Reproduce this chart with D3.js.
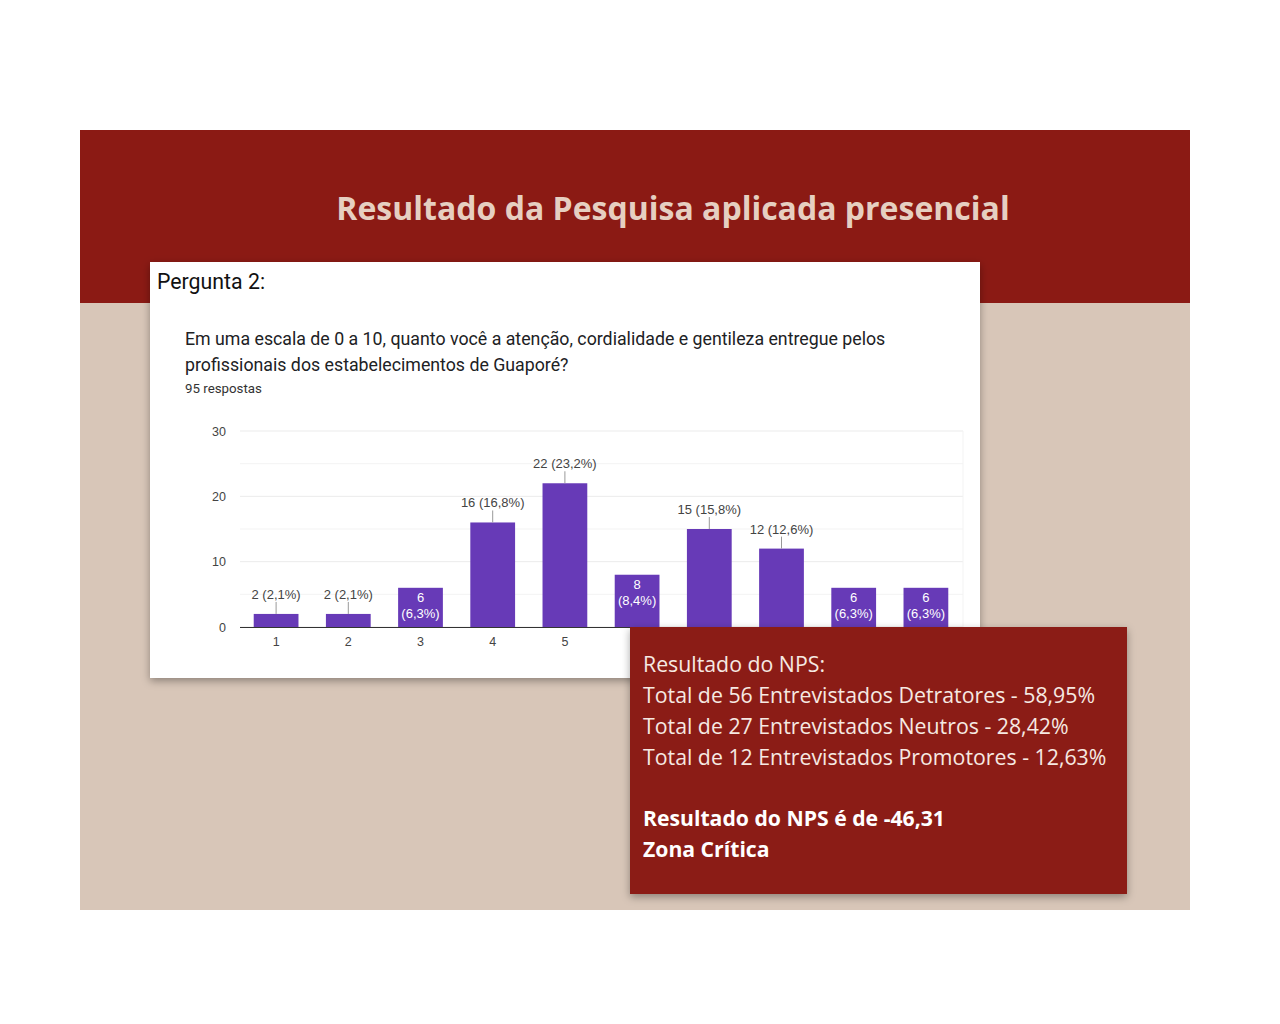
<!DOCTYPE html>
<html>
<head>
<meta charset="utf-8">
<script src="https://cdn.jsdelivr.net/npm/d3@7"></script>
<style>
  body { margin: 0; background: #ffffff; }
  svg { display: block; }
</style>
</head>
<body>
<div id="chart"></div>
<script>
// chart data
var categories = ["1", "2", "3", "4", "5", "6", "7", "8", "9", "10"];
var counts = [2, 2, 6, 16, 22, 8, 15, 12, 6, 6];
var yTicks = [0, 10, 20, 30];
var gridTicks = [0, 5, 10, 15, 20, 25, 30];
var totalAnswers = 95;

var slideTitle = "Resultado da Pesquisa aplicada presencial";
var cardTitle = "Pergunta 2:";
var questionLines = [
  "Em uma escala de 0 a 10, quanto você a atenção, cordialidade e gentileza entregue pelos",
  "profissionais dos estabelecimentos de Guaporé?"
];
var npsLines = [
  "Resultado do NPS:",
  "Total de 56 Entrevistados Detratores - 58,95%",
  "Total de 27 Entrevistados Neutros - 28,42%",
  "Total de 12 Entrevistados Promotores - 12,63%"
];
var npsBold = ["Resultado do NPS é de -46,31", "Zona Crítica"];

function init() {
  var w = 1280, h = 1024;
  var dataset = categories.map(function (c, i) { return { cat: c, value: counts[i] }; });

  var svg = d3.select("#chart").append("svg")
    .attr("width", w).attr("height", h);

  var defs = svg.append("defs");
  var f = defs.append("filter").attr("id", "shadow")
    .attr("x", "-10%").attr("y", "-10%").attr("width", "120%").attr("height", "130%");
  f.append("feDropShadow").attr("dx", 0).attr("dy", 3).attr("stdDeviation", 4)
    .attr("flood-color", "#000").attr("flood-opacity", 0.35);

  // slide background
  svg.append("rect").attr("x", 80).attr("y", 130).attr("width", 1110).attr("height", 780)
    .attr("fill", "#d8c6b8");
  svg.append("rect").attr("x", 80).attr("y", 130).attr("width", 1110).attr("height", 173)
    .attr("fill", "#8b1a14");

  svg.append("text")
    .attr("x", 673).attr("y", 220)
    .attr("text-anchor", "middle")
    .style("font-family", "'Open Sans', sans-serif")
    .style("font-weight", 700)
    .style("font-size", "32px")
    .attr("fill", "#e6cfc1")
    .text(slideTitle);

  // white card
  svg.append("rect").attr("x", 150).attr("y", 262).attr("width", 830).attr("height", 416)
    .attr("fill", "#ffffff").attr("filter", "url(#shadow)");

  svg.append("text").attr("x", 157).attr("y", 289)
    .style("font-family", "Roboto, sans-serif").style("font-size", "21.3px")
    .attr("fill", "#111").text(cardTitle);

  svg.selectAll(".q").data(questionLines).enter().append("text")
    .attr("class", "q")
    .attr("x", 185).attr("y", function (d, i) { return 345 + i * 26; })
    .style("font-family", "Roboto, sans-serif").style("font-size", "17.75px")
    .attr("fill", "#202124").text(function (d) { return d; });

  svg.append("text").attr("x", 185).attr("y", 393)
    .style("font-family", "Roboto, sans-serif").style("font-size", "13.3px")
    .attr("fill", "#333").text(totalAnswers + " respostas");

  // scales
  var xScale = d3.scaleBand().domain(categories).range([240, 962]).paddingInner(0.38).paddingOuter(0.19);
  var yScale = d3.scaleLinear().domain([0, 30]).range([627, 431]);

  var g = svg.append("g").style("font-family", "'Liberation Sans', Arial, sans-serif");

  g.selectAll(".grid").data(gridTicks).enter().append("line")
    .attr("x1", 240).attr("x2", 963)
    .attr("y1", function (d) { return yScale(d); }).attr("y2", function (d) { return yScale(d); })
    .attr("stroke", function (d) { return d % 10 === 0 ? "#ebebeb" : "#f3f3f3"; })
    .attr("stroke-width", 1);
  g.append("line").attr("x1", 963).attr("x2", 963).attr("y1", 431).attr("y2", 627)
    .attr("stroke", "#f3f3f3");

  var yAxis = d3.axisLeft(yScale).tickValues(yTicks).tickSize(0).tickPadding(0);
  var ya = g.append("g").attr("transform", "translate(226,0)").call(yAxis);
  ya.select(".domain").remove();
  ya.selectAll("text").style("font-size", "12.5px").attr("fill", "#444");

  g.selectAll(".bar").data(dataset).enter().append("rect")
    .attr("class", "bar")
    .attr("x", function (d) { return xScale(d.cat); })
    .attr("width", xScale.bandwidth())
    .attr("y", function (d) { return yScale(d.value); })
    .attr("height", function (d) { return yScale(0) - yScale(d.value); })
    .attr("fill", "#673ab7");

  var xAxis = d3.axisBottom(xScale).tickSize(0).tickPadding(10);
  var xa = g.append("g").attr("transform", "translate(0,627)").call(xAxis);
  xa.select(".domain").attr("stroke", "#333").attr("d", "M240,0.5H963");
  xa.selectAll("text").style("font-size", "12.5px").attr("fill", "#444");

  function pct(v) {
    return (v / totalAnswers * 100).toFixed(1).replace(".", ",") + "%";
  }
  function inside(d) { return d.value >= 5 && d.value <= 10; }

  // labels above bars with leader line
  var above = dataset.filter(function (d) { return !inside(d); });
  g.selectAll(".lead").data(above).enter().append("line")
    .attr("x1", function (d) { return xScale(d.cat) + xScale.bandwidth() / 2; })
    .attr("x2", function (d) { return xScale(d.cat) + xScale.bandwidth() / 2; })
    .attr("y1", function (d) { return yScale(d.value); })
    .attr("y2", function (d) { return yScale(d.value) - 12; })
    .attr("stroke", "#999").attr("stroke-width", 1);
  g.selectAll(".lab").data(above).enter().append("text")
    .attr("x", function (d) { return xScale(d.cat) + xScale.bandwidth() / 2; })
    .attr("y", function (d) { return yScale(d.value) - 15; })
    .attr("text-anchor", "middle")
    .style("font-size", "13px").attr("fill", "#444")
    .text(function (d) { return d.value + " (" + pct(d.value) + ")"; });

  // labels inside bars
  var ins = dataset.filter(inside);
  var it = g.selectAll(".ilab").data(ins).enter().append("text")
    .attr("text-anchor", "middle")
    .style("font-size", "13px").attr("fill", "#ffffff");
  it.append("tspan")
    .attr("x", function (d) { return xScale(d.cat) + xScale.bandwidth() / 2; })
    .attr("y", function (d) { return yScale(d.value) + 14; })
    .text(function (d) { return d.value; });
  it.append("tspan")
    .attr("x", function (d) { return xScale(d.cat) + xScale.bandwidth() / 2; })
    .attr("y", function (d) { return yScale(d.value) + 30; })
    .text(function (d) { return "(" + pct(d.value) + ")"; });

  // NPS box
  svg.append("rect").attr("x", 630).attr("y", 627).attr("width", 497).attr("height", 267)
    .attr("fill", "#8b1a14").attr("filter", "url(#shadow)");

  svg.selectAll(".nps").data(npsLines).enter().append("text")
    .attr("x", 643).attr("y", function (d, i) { return 672 + i * 31; })
    .style("font-family", "'Open Sans', sans-serif").style("font-size", "21.3px")
    .attr("fill", "#f6e9e2").text(function (d) { return d; });
  svg.selectAll(".npsb").data(npsBold).enter().append("text")
    .attr("x", 643).attr("y", function (d, i) { return 826 + i * 31; })
    .style("font-family", "'Open Sans', sans-serif").style("font-size", "21.2px")
    .style("font-weight", 700)
    .attr("fill", "#ffffff").text(function (d) { return d; });
}

window.onload = init;
</script>
</body>
</html>
